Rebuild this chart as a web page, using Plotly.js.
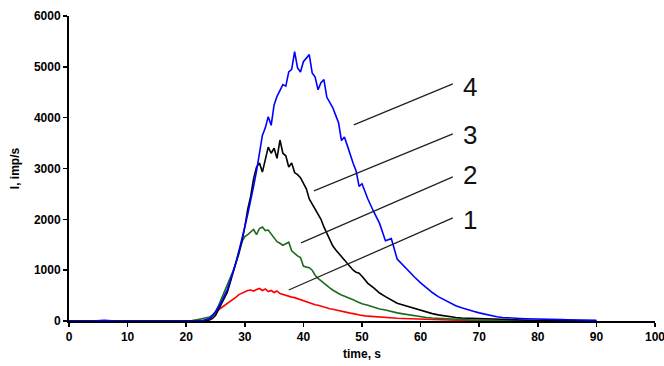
<!DOCTYPE html>
<html>
<head>
<meta charset="utf-8">
<script src="https://cdn.plot.ly/plotly-3.0.1.min.js"></script>
<style>html,body{margin:0;padding:0;background:#fff;}#chart{width:664px;height:366px;}</style>
</head>
<body>
<div id="chart"></div>
<script>
// time, s
var time = [0,2,4,6,8,10,12,14,16,18,20,21,22,23,
  24,24.5,25,25.5,26,26.5,27,27.5,28,28.5,29,29.5,30,30.5,31,31.5,32,32.5,33,33.5,34,34.5,35,35.5,36,36.5,37,37.5,38,38.5,39,39.5,40,40.5,41,41.5,42,42.5,43,43.5,44,44.5,45,45.5,46,46.5,47,47.5,48,48.5,49,49.5,50,
  51,52,53,54,55,56,57,58,59,60,61,62,63,64,65,66,67,68,69,70,71,72,73,74,75,76,77,78,79,80,81,82,83,84,85,86,87,88,89,90];

var curve1 = [0,0,0,0,0,0,0,0,0,0,0,0,5,15,
  50,110,170,220,260,300,340,380,420,470,520,550,580,600,610,590,620,640,600,630,580,600,560,590,540,520,510,480,470,460,440,420,390,370,350,340,320,310,290,270,255,240,230,215,200,190,175,165,155,145,130,120,110,
  95,85,75,65,60,55,50,45,40,35,30,25,20,18,15,12,10,8,8,6,6,5,5,4,4,3,3,3,2,2,2,2,1,1,1,1,1,0,0,0];

var curve2 = [0,0,0,0,0,0,0,0,0,0,0,10,30,50,
  80,120,180,300,430,560,690,820,980,1150,1320,1560,1660,1700,1760,1800,1700,1820,1850,1780,1790,1720,1650,1560,1530,1490,1520,1550,1380,1330,1280,1250,1080,1060,1050,1000,900,840,790,740,690,650,610,570,540,510,490,470,450,420,390,360,340,
  310,270,235,215,185,160,140,120,100,85,70,60,52,45,40,35,30,25,20,15,12,10,8,8,6,6,5,5,4,4,3,3,3,2,2,2,1,1,1,0];

var curve3 = [0,0,0,0,0,0,0,0,0,0,0,0,0,5,
  20,50,110,220,340,440,560,750,950,1150,1350,1560,1850,2200,2450,2800,3030,3110,2930,3200,3420,3300,3400,3200,3560,3300,3250,3030,3110,2920,2880,2820,2700,2600,2400,2300,2200,2100,2000,1850,1720,1600,1480,1400,1330,1260,1200,1120,1060,1000,960,940,880,
  740,650,550,480,410,350,315,280,240,200,175,145,120,100,80,70,60,55,50,45,40,35,30,25,20,18,15,12,10,10,8,8,6,6,5,5,4,4,3,3];

var curve4 = [0,0,0,15,0,0,0,0,0,0,0,0,5,15,
  50,100,180,270,370,480,620,780,950,1150,1380,1600,1850,2100,2350,2650,2950,3350,3650,3800,4020,3850,4250,4420,4550,4650,4620,4900,4950,5300,4980,4900,5100,5180,5240,4880,4800,4550,4690,4750,4400,4300,4200,4050,3900,3550,3620,3450,3250,3100,2950,2650,2700,
  2400,2150,1920,1580,1620,1220,1100,960,860,750,650,560,480,420,360,300,260,220,190,160,130,105,85,70,60,55,50,45,40,40,38,35,30,28,25,22,20,18,15,12];

var curveNames = ['1','2','3','4'];
var curveColors = ['#ff0000','#1e6b1e','#000000','#0000ff'];
var curveData = [curve1, curve2, curve3, curve4];

// label leader lines: [x0, y0, x1, y1] and label positions
var leaderLines = [
  [37.5, 610, 65.5, 2028],
  [39.6, 1535, 65.5, 2835],
  [41.8, 2559, 65.5, 3681],
  [48.6, 3858, 65.5, 4665]
];
var labelPos = [[68.4, 1988], [68.4, 2874], [68.4, 3661], [68.4, 4606]];

var xTicks = [0,10,20,30,40,50,60,70,80,90,100];
var yTicks = [0,1000,2000,3000,4000,5000,6000];

var traces = curveData.map(function(d, i) {
  return {x: time, y: d, type: 'scatter', mode: 'lines', name: curveNames[i],
    line: {color: curveColors[i], width: 1.6}, showlegend: false, hoverinfo: 'skip'};
});

var shapes = leaderLines.map(function(l) {
  return {type: 'line', xref: 'x', yref: 'y', x0: l[0], y0: l[1], x1: l[2], y1: l[3],
    line: {color: '#222222', width: 1.3}};
});

var annotations = labelPos.map(function(p, i) {
  return {x: p[0], y: p[1], xref: 'x', yref: 'y', text: curveNames[i], showarrow: false,
    xanchor: 'center', yanchor: 'middle',
    font: {family: 'Liberation Sans, Arial, sans-serif', size: 26, color: '#111'}};
});

var tickFont = {family: 'Liberation Sans, Arial, sans-serif', size: 12, color: '#000', weight: 'bold'};
var titleFont = {family: 'Liberation Sans, Arial, sans-serif', size: 12, color: '#000', weight: 'bold'};

var layout = {
  width: 664, height: 366,
  margin: {l: 69, r: 9, t: 16, b: 45},
  paper_bgcolor: '#fff', plot_bgcolor: '#fff',
  showlegend: false,
  xaxis: {
    range: [0, 100], tickvals: xTicks, ticktext: xTicks.map(String),
    showgrid: false, zeroline: false, showline: true, linecolor: '#000', linewidth: 2,
    ticks: 'outside', ticklen: 4, tickwidth: 1.5, tickcolor: '#000',
    tickfont: tickFont, ticklabeloverflow: 'allow',
    title: {text: 'time, s', font: titleFont, standoff: 6}
  },
  yaxis: {
    range: [0, 6000], tickvals: yTicks, ticktext: yTicks.map(String),
    showgrid: false, zeroline: false, showline: true, linecolor: '#000', linewidth: 2,
    ticks: 'outside', ticklen: 4, tickwidth: 1.5, tickcolor: '#000',
    tickfont: tickFont,
    title: {text: 'I, imp/s', font: titleFont, standoff: 12}
  },
  shapes: shapes,
  annotations: annotations
};

Plotly.newPlot('chart', traces, layout, {displayModeBar: false, staticPlot: true});
</script>
</body>
</html>
